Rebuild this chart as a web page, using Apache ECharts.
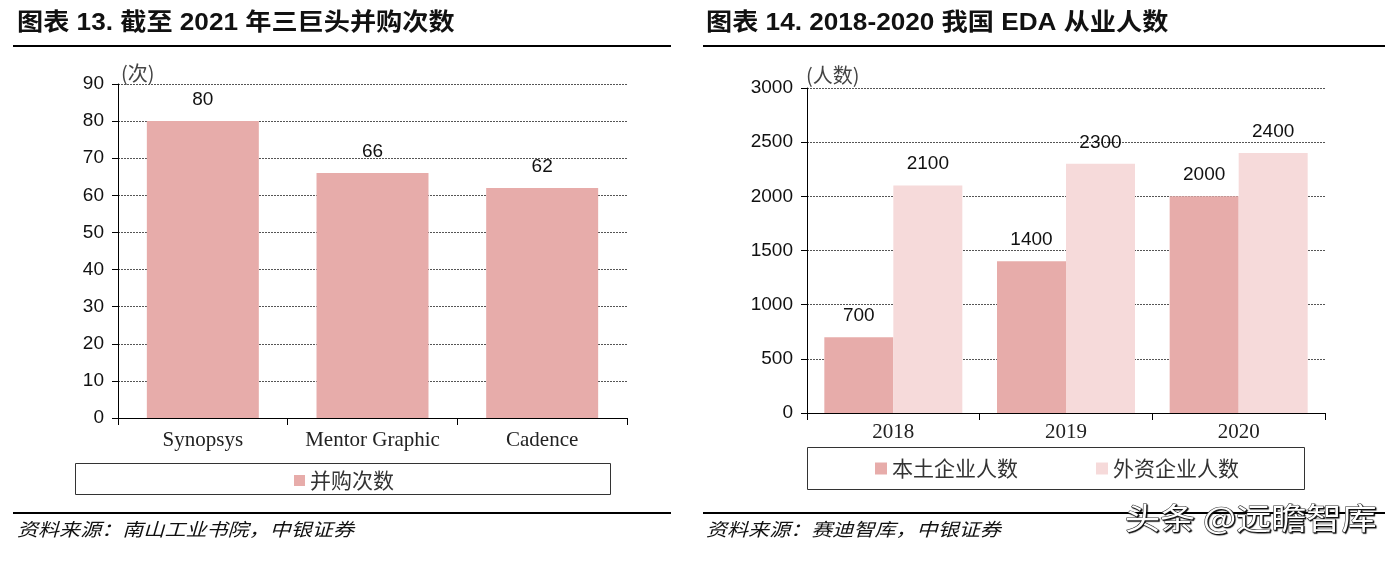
<!DOCTYPE html>
<html>
<head>
<meta charset="utf-8">
<script src="https://cdn.jsdelivr.net/npm/echarts@6/dist/echarts.min.js"></script>
<style>
html,body{margin:0;padding:0;background:#fff;}
#c{width:1397px;height:561px;}
</style>
</head>
<body>
<div id="c"></div>
<script>
// Left chart data
const leftCategories = ['Synopsys', 'Mentor Graphic', 'Cadence'];
const leftValues = [80, 66, 62];
const leftSeriesName = '并购次数';
const leftTicks = { min: 0, max: 90, interval: 10 };

// Right chart data
const rightCategories = ['2018', '2019', '2020'];
const rightLocal = [700, 1400, 2000];
const rightForeign = [2100, 2300, 2400];
const rightSeriesNames = ['本土企业人数', '外资企业人数'];
const rightTicks = { min: 0, max: 3000, interval: 500 };

const titles = ['图表 13. 截至 2021 年三巨头并购次数', '图表 14. 2018-2020 我国 EDA 从业人数'];
const sources = ['资料来源：南山工业书院，中银证券', '资料来源：赛迪智库，中银证券'];
const units = ['(次)', '(人数)'];
const watermark = '头条 @远瞻智库';

const C1 = '#E7ACAA', C2 = '#F6DADA';
const numFont = '"Liberation Sans", Arial, sans-serif';
const serifFont = '"Liberation Serif", "Noto Sans CJK SC", serif';
const cjk = '"Noto Sans CJK SC", sans-serif';

const chart = echarts.init(document.getElementById('c'), null, {renderer: 'canvas'});

function yAxis(gi, t) {
  return {
    type: 'value', gridIndex: gi, min: t.min, max: t.max, interval: t.interval,
    axisLine: {show: true, lineStyle: {color: '#000', width: 1}},
    axisTick: {show: true, inside: false, length: 6, lineStyle: {color: '#000'}},
    axisLabel: {color: '#111', fontSize: 19, fontFamily: numFont, margin: 14, formatter: v => String(v)},
    splitLine: {show: true, lineStyle: {color: '#555', type: [2, 1], width: 1}}
  };
}
function xAxis(gi, cats, margin) {
  return {
    type: 'category', gridIndex: gi, data: cats,
    axisLine: {show: true, lineStyle: {color: '#000', width: 1}},
    axisTick: {show: true, length: 7, alignWithLabel: false, lineStyle: {color: '#000'}},
    axisLabel: {color: '#222', fontSize: 21, fontFamily: serifFont, margin: margin, interval: 0, hideOverlap: false},
    splitLine: {show: false}
  };
}
const labelStyle = {show: true, position: 'top', distance: 12, color: '#111', fontSize: 19, fontFamily: numFont};

function title(x, text) {
  return {type: 'text', x: x, y: 11, scaleX: 1.09, originX: 0,
    style: {text: text, font: 'bold 24px "Liberation Sans", "Noto Sans CJK SC", sans-serif', fill: '#111'}};
}
function source(x, text) {
  return {type: 'text', x: x, y: 520, scaleX: 1.17, originX: 0,
    style: {text: text, font: 'italic 18px "Noto Sans CJK SC", sans-serif', fill: '#111'}};
}

const option = {
  animation: false,
  backgroundColor: '#fff',
  grid: [
    {left: 118, right: 1397 - 627, top: 84, bottom: 561 - 418, containLabel: false},
    {left: 807, right: 1397 - 1325, top: 88, bottom: 561 - 413, containLabel: false}
  ],
  xAxis: [xAxis(0, leftCategories, 12), xAxis(1, rightCategories, 9)],
  yAxis: [yAxis(0, leftTicks), yAxis(1, rightTicks)],
  legend: [
    {data: [leftSeriesName], left: 289, top: 465, itemWidth: 11, itemHeight: 11, icon: 'rect', itemGap: 40,
     textStyle: {fontSize: 21, fontFamily: cjk, color: '#333'}},
    {data: rightSeriesNames, left: 870, top: 453, itemWidth: 12, itemHeight: 12, icon: 'rect', itemGap: 78,
     textStyle: {fontSize: 21, fontFamily: cjk, color: '#333'}}
  ],
  series: [
    {name: leftSeriesName, type: 'bar', xAxisIndex: 0, yAxisIndex: 0, data: leftValues,
     barWidth: '66%', itemStyle: {color: C1}, label: labelStyle},
    {name: rightSeriesNames[0], type: 'bar', xAxisIndex: 1, yAxisIndex: 1, data: rightLocal,
     barWidth: 69, barGap: '0%', itemStyle: {color: C1}, label: labelStyle},
    {name: rightSeriesNames[1], type: 'bar', xAxisIndex: 1, yAxisIndex: 1, data: rightForeign,
     barWidth: 69, barGap: '0%', itemStyle: {color: C2}, label: labelStyle}
  ],
  graphic: [
    title(17, titles[0]),
    title(706, titles[1]),
    {type: 'rect', shape: {x: 13, y: 45, width: 658, height: 2}, style: {fill: '#000'}},
    {type: 'rect', shape: {x: 703, y: 45, width: 682, height: 2}, style: {fill: '#000'}},
    {type: 'rect', shape: {x: 13, y: 512, width: 658, height: 2}, style: {fill: '#000'}},
    {type: 'rect', shape: {x: 703, y: 512, width: 682, height: 2}, style: {fill: '#000'}},
    {type: 'rect', shape: {x: 75.5, y: 463.5, width: 535, height: 31}, style: {fill: 'none', stroke: '#333', lineWidth: 1}},
    {type: 'rect', shape: {x: 807.5, y: 447.5, width: 497, height: 42}, style: {fill: 'none', stroke: '#333', lineWidth: 1}},
    {type: 'text', x: 121, y: 63, style: {text: units[0], font: '20px "Noto Sans CJK SC", sans-serif', fill: '#444'}},
    {type: 'text', x: 806, y: 65, style: {text: units[1], font: '20px "Noto Sans CJK SC", sans-serif', fill: '#444'}},
    source(17, sources[0]),
    source(706, sources[1]),
    {type: 'text', x: 1125, y: 503, scaleX: 1.17, originX: 0, z: 100,
     style: {text: watermark, font: '30px "Noto Sans CJK SC", sans-serif', fill: '#fff',
             textShadowColor: 'rgba(0,0,0,0.9)', textShadowOffsetX: 1, textShadowOffsetY: 1, textShadowBlur: 1,
             stroke: '#333', lineWidth: 1}}
  ]
};
chart.setOption(option);
</script>
</body>
</html>
